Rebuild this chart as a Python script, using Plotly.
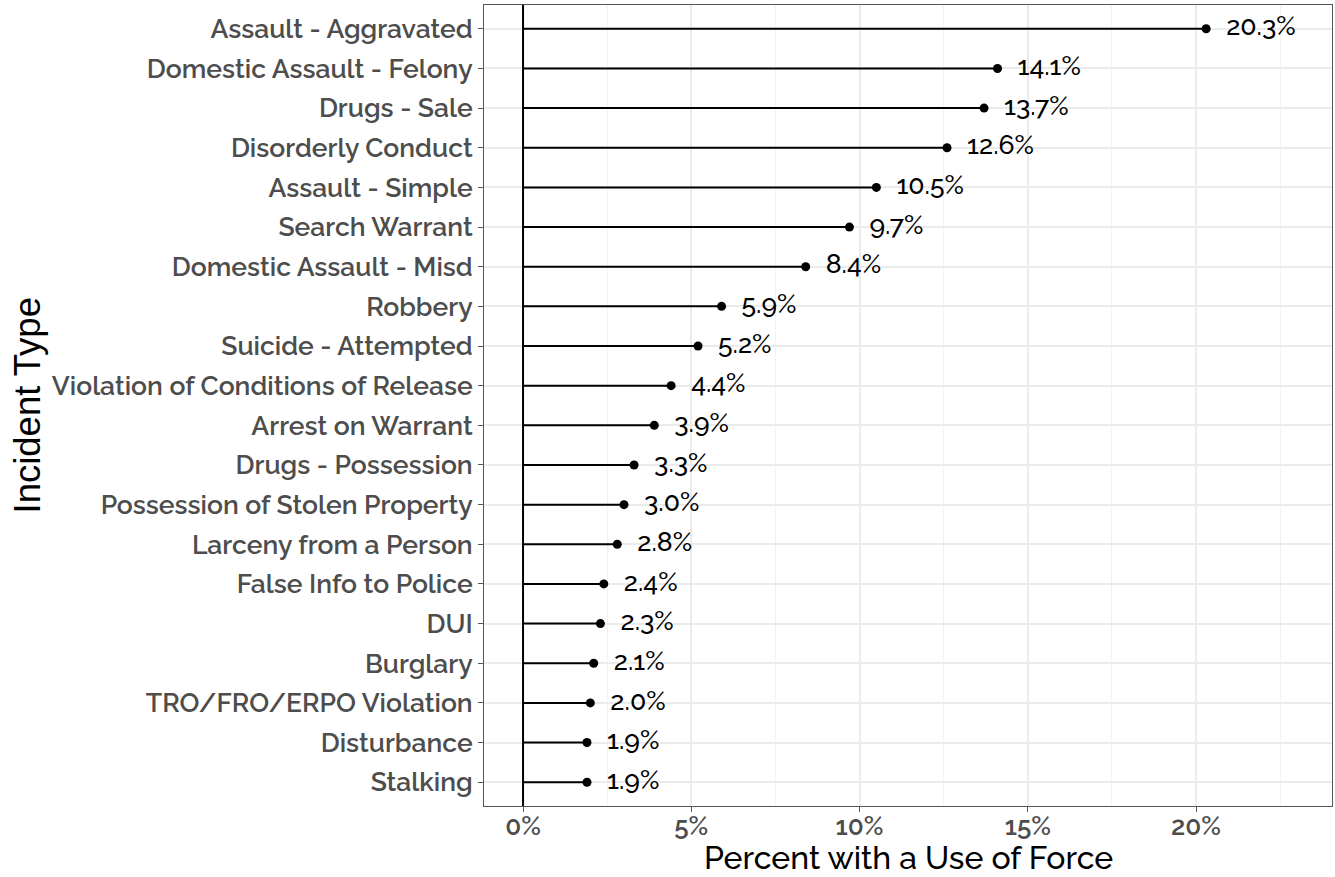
import plotly.graph_objects as go

categories = ["Assault - Aggravated", "Domestic Assault - Felony", "Drugs - Sale",
              "Disorderly Conduct", "Assault - Simple", "Search Warrant",
              "Domestic Assault - Misd", "Robbery", "Suicide - Attempted",
              "Violation of Conditions of Release", "Arrest on Warrant",
              "Drugs - Possession", "Possession of Stolen Property",
              "Larceny from a Person", "False Info to Police", "DUI", "Burglary",
              "TRO/FRO/ERPO Violation", "Disturbance", "Stalking"]
values = [20.3, 14.1, 13.7, 12.6, 10.5, 9.7, 8.4, 5.9, 5.2, 4.4, 3.9, 3.3,
          3.0, 2.8, 2.4, 2.3, 2.1, 2.0, 1.9, 1.9]
labels = ["20.3%", "14.1%", "13.7%", "12.6%", "10.5%", "9.7%", "8.4%", "5.9%",
          "5.2%", "4.4%", "3.9%", "3.3%", "3.0%", "2.8%", "2.4%", "2.3%",
          "2.1%", "2.0%", "1.9%", "1.9%"]
x_ticks = [0, 5, 10, 15, 20]
x_tick_labels = ["0%", "5%", "10%", "15%", "20%"]

FONT = "Raleway, Lato, sans-serif"
n = len(categories)
ypos = list(range(n - 1, -1, -1))

fig = go.Figure()
sx, sy = [], []
for v, y in zip(values, ypos):
    sx += [0, v, None]
    sy += [y, y, None]
fig.add_trace(go.Scatter(x=sx, y=sy, mode="lines",
                         line=dict(color="black", width=2), hoverinfo="skip",
                         showlegend=False))
fig.add_trace(go.Scatter(x=values, y=ypos, mode="markers+text",
                         marker=dict(color="black", size=9),
                         text=["  " + l for l in labels],
                         textposition="middle right",
                         textfont=dict(family=FONT, size=26.5, color="black",
                                       weight=500),
                         showlegend=False))

fig.add_shape(type="line", x0=0, x1=0, y0=0, y1=1, yref="paper", xref="x",
              line=dict(color="black", width=2))

fig.add_annotation(text="Percent with a Use of Force", xref="paper", yref="paper",
                   x=0.5, y=0, yanchor="middle", yshift=-51, showarrow=False,
                   font=dict(family=FONT, size=32, color="black", weight=500))
fig.add_annotation(text="Incident Type", xref="paper", yref="paper",
                   x=0, y=0.5, xanchor="center", xshift=-457, textangle=-90,
                   showarrow=False,
                   font=dict(family="Liberation Sans, Arial, sans-serif",
                             size=36.5, color="black"))

fig.update_layout(
    width=1335, height=877,
    margin=dict(l=484, r=3, t=5, b=71),
    plot_bgcolor="white", paper_bgcolor="white",
    font=dict(family=FONT),
    xaxis=dict(range=[-1.16, 24.04], tickvals=x_ticks, ticktext=x_tick_labels,
               automargin=False, ticklabelstandoff=-8,
               showgrid=True, gridcolor="#EBEBEB", gridwidth=1.5,
               minor=dict(tickvals=[2.5, 7.5, 12.5, 17.5, 22.5], showgrid=True,
                          gridcolor="#F2F2F2", gridwidth=1),
               zeroline=False, showline=True, linecolor="#555555", linewidth=1,
               mirror=True, ticks="outside", ticklen=5, tickcolor="#555555",
               tickfont=dict(family=FONT, size=26, color="#4D4D4D", weight=600)),
    yaxis=dict(range=[-0.6, n - 0.4], tickvals=ypos, ticktext=categories,
               automargin=False,
               showgrid=True, gridcolor="#EBEBEB", gridwidth=1.5,
               zeroline=False, showline=True, linecolor="#555555", linewidth=1,
               mirror=True, ticks="outside", ticklen=5, tickcolor="#555555",
               tickfont=dict(family=FONT, size=26.5, color="#4D4D4D", weight=600)),
)

fig.write_html("out.html", config={"displayModeBar": False},
               post_script="document.body.style.margin='0';document.body.style.overflow='hidden';")
